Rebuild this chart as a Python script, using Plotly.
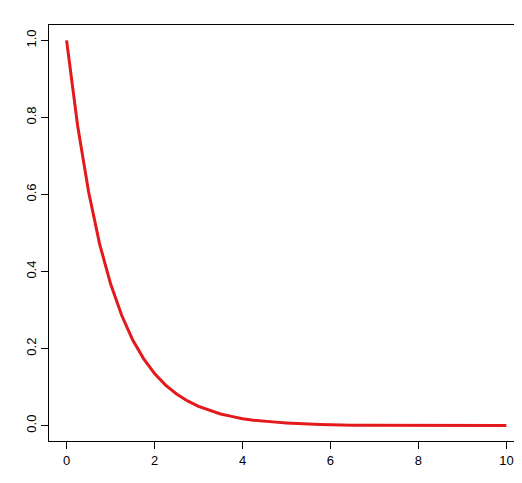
import plotly.graph_objects as go

# curve values, step 0.25
x_vals = [i * 0.25 for i in range(41)]
y_vals = [1.0, 0.779, 0.607, 0.472, 0.368, 0.287, 0.223, 0.174, 0.135, 0.105,
          0.082, 0.064, 0.050, 0.039, 0.030, 0.024, 0.018, 0.014, 0.011, 0.009,
          0.007, 0.005, 0.004, 0.003, 0.002, 0.002, 0.001, 0.001, 0.001, 0.001,
          0.0, 0.0, 0.0, 0.0, 0.0, 0.0, 0.0, 0.0, 0.0, 0.0, 0.0]
x_ticks = [0, 2, 4, 6, 8, 10]
y_ticks = [0.0, 0.2, 0.4, 0.6, 0.8, 1.0]

fig = go.Figure(go.Scatter(x=x_vals, y=y_vals, mode="lines",
                           line=dict(color="#e3191c", width=3)))

axis_style = dict(showgrid=False, zeroline=False, showline=True, mirror=True,
                  linecolor="black", linewidth=1, ticks="outside", ticklen=7,
                  tickcolor="black", automargin=False,
                  tickfont=dict(family="Liberation Sans", size=13, color="black"))
fig.update_xaxes(range=[-0.4, 10.4], tickvals=x_ticks, **axis_style)
fig.update_yaxes(range=[-0.04, 1.04], tickvals=y_ticks, tickformat=".1f",
                 tickangle=-90, **axis_style)
fig.update_layout(width=522, height=483, margin=dict(l=41, r=6, t=17, b=50),
                  plot_bgcolor="white", paper_bgcolor="white", showlegend=False)
fig.write_html("out.html")
